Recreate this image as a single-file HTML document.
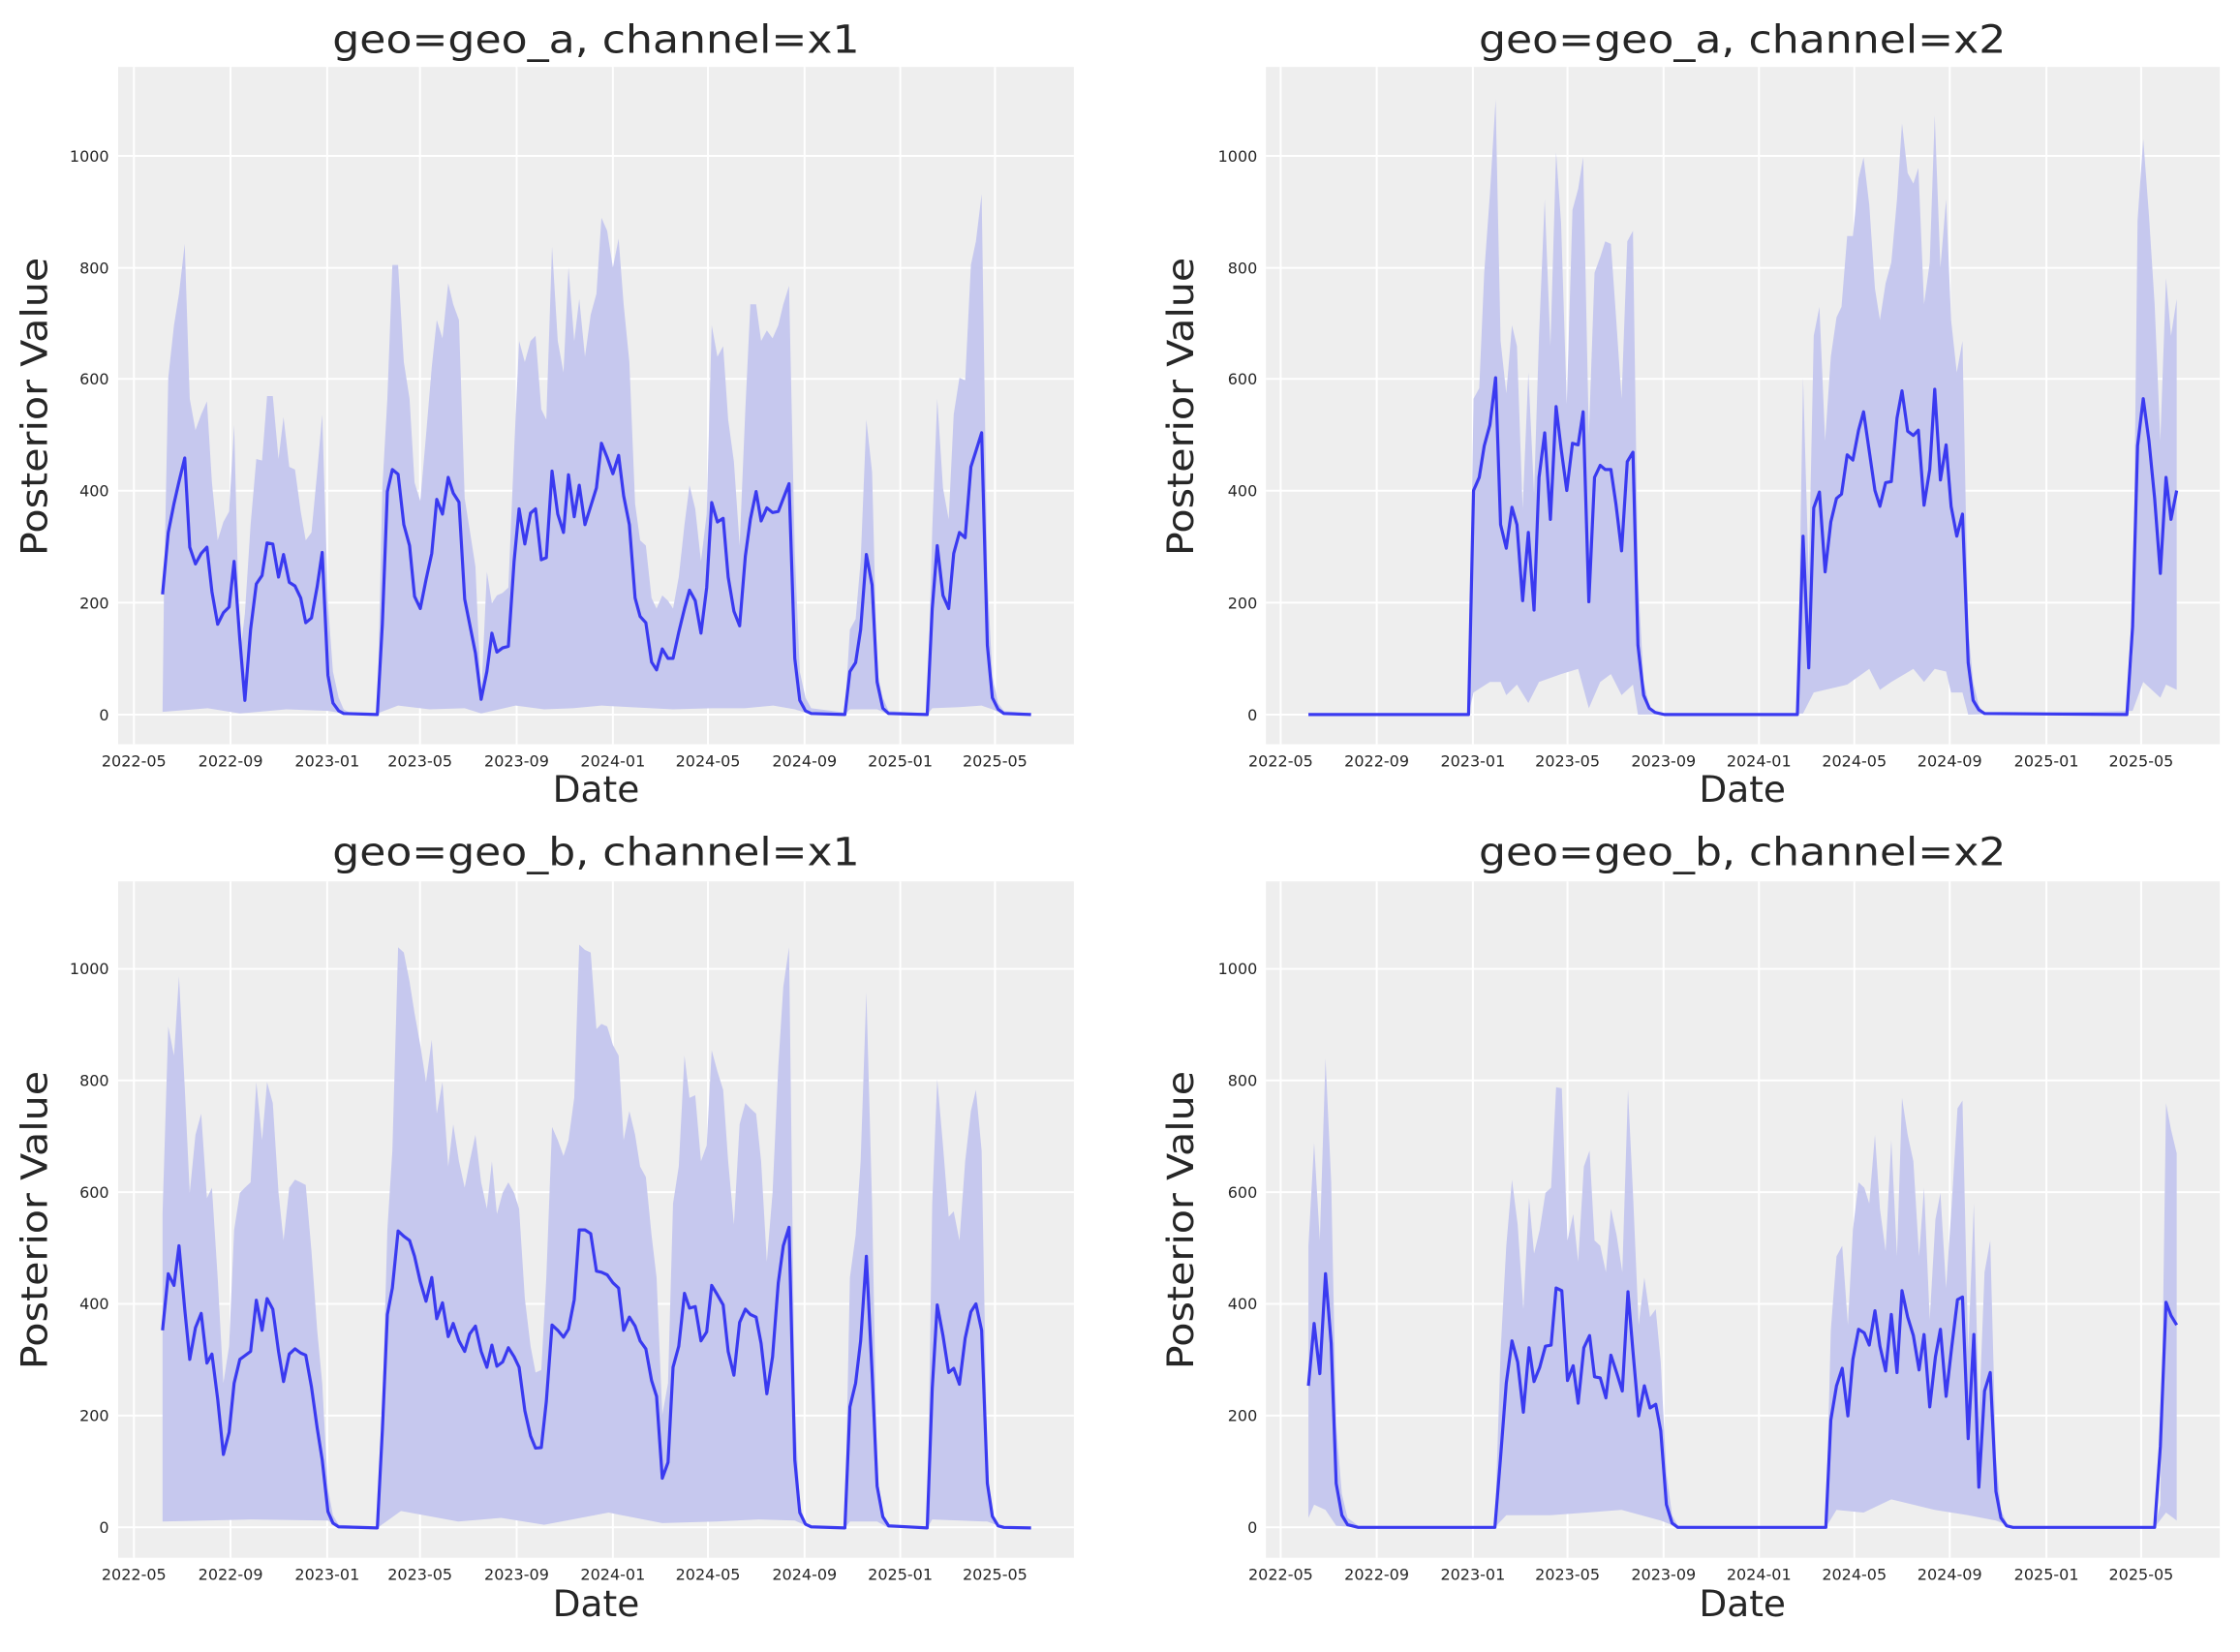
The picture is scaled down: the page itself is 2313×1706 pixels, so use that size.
<!DOCTYPE html>
<html><head><meta charset="utf-8"><style>
html,body{margin:0;padding:0;background:#fff;}
svg{display:block;}
text{font-family:"DejaVu Sans","Liberation Sans",sans-serif;fill:#262626;}
.t{font-size:41px;}
.l{font-size:38px;}
.k{font-size:16.2px;}
.d{fill:#c6c8ee;}
.m{fill:none;stroke:#3a3af0;stroke-width:3.2;vector-effect:non-scaling-stroke;stroke-linejoin:round;}
.g{stroke:#fff;stroke-width:2;}
</style></head><body>
<svg width="2313" height="1706" viewBox="0 0 2313 1706" xmlns="http://www.w3.org/2000/svg">

<!-- ===== TL ===== -->
<g transform="scale(0.98789)">
<rect x="123.5" y="70" width="999" height="708" fill="#eeeeee"/>
<g class="g">
<path d="M123.5 747H1122.5M123.5 630H1122.5M123.5 513H1122.5M123.5 396H1122.5M123.5 280H1122.5M123.5 163H1122.5"/>
<path d="M140 70V778M241 70V778M342 70V778M439 70V778M540 70V778M640.6 70V778M740 70V778M841 70V778M941 70V778M1040 70V778"/>
</g>
<g transform="scale(0.7484,0.5484)">
<path class="d" d="M227 1357L229 1130L235 720L243 620L250 560L258 465L265 760L273 820L281 790L289 765L296 920L304 1030L312 995L320 975L327 810L335 1250L342 1170L350 1000L358 875L366 878L373 755L381 755L389 875L396 795L404 890L412 895L420 975L427 1030L435 1015L443 900L450 790L458 1150L465 1280L473 1330L480 1352L490 1360L527 1360L534 930L541 760L548 505L556 505L564 690L572 760L579 920L587 955L595 830L603 700L610 610L618 645L626 540L633 580L641 610L649 950L656 1010L664 1080L672 1330L680 1090L687 1150L694 1135L702 1130L710 1120L718 860L725 650L733 690L741 650L748 640L756 780L763 800L771 470L779 650L787 710L794 510L802 650L809 570L817 680L825 600L833 560L840 415L848 440L856 510L864 455L871 580L879 690L887 960L894 1030L902 1040L910 1140L917 1160L925 1135L933 1145L940 1160L948 1100L956 1000L963 925L971 970L979 1070L987 980L994 620L1002 680L1010 660L1017 800L1025 880L1033 1040L1041 780L1048 580L1056 580L1063 650L1071 630L1079 645L1087 620L1094 580L1102 545L1110 1050L1117 1280L1125 1330L1133 1350L1180 1358L1187 1200L1195 1180L1202 1070L1210 800L1218 900L1225 1280L1233 1330L1241 1355L1295 1360L1302 1010L1309 760L1317 930L1325 990L1332 790L1340 720L1348 725L1356 505L1363 460L1371 370L1379 1100L1386 1290L1394 1340L1402 1355L1440 1360L1440 1362L1402 1362L1386 1352L1371 1345L1340 1348L1302 1350L1295 1362L1241 1362L1225 1352L1187 1352L1180 1362L1133 1362L1110 1352L1080 1345L1040 1350L994 1350L940 1352L880 1348L840 1345L800 1350L760 1352L720 1345L672 1360L649 1350L600 1352L556 1345L527 1360L480 1360L458 1355L400 1352L335 1360L290 1350L227 1357Z"/>
<path class="m" d="M227 1133L235 1015L243 960L250 918L258 873L265 1043L273 1075L281 1055L289 1043L296 1128L304 1190L312 1168L320 1157L327 1070L335 1220L342 1335L350 1200L358 1113L366 1097L373 1035L381 1037L389 1100L396 1057L404 1110L412 1117L420 1140L427 1187L435 1178L443 1118L450 1053L458 1287L465 1340L473 1355L480 1360L527 1362L534 1190L541 937L548 895L556 904L564 1000L572 1040L579 1137L587 1160L595 1105L603 1055L610 952L618 980L626 910L633 940L641 957L649 1142L656 1190L664 1245L672 1333L680 1280L687 1207L694 1243L702 1235L710 1232L718 1070L725 970L733 1037L741 978L748 970L756 1067L763 1063L771 898L779 980L787 1015L794 905L802 985L809 925L817 1000L825 965L833 930L840 845L848 872L856 903L864 868L871 945L879 1000L887 1140L894 1175L902 1187L910 1262L917 1277L925 1237L933 1255L940 1255L948 1205L956 1160L963 1125L971 1145L979 1207L987 1120L994 958L1002 995L1010 988L1017 1100L1025 1165L1033 1193L1041 1060L1048 990L1056 937L1063 993L1071 968L1079 977L1087 975L1094 950L1102 922L1110 1255L1117 1335L1125 1355L1133 1360L1180 1362L1187 1280L1195 1263L1202 1200L1210 1057L1218 1115L1225 1300L1233 1350L1241 1360L1295 1362L1302 1160L1309 1040L1317 1135L1325 1160L1332 1055L1340 1015L1348 1025L1356 890L1363 860L1371 825L1379 1230L1386 1330L1394 1352L1402 1360L1440 1362"/>
</g>
<text class="t" x="623" y="55" text-anchor="middle" textLength="551" lengthAdjust="spacingAndGlyphs">geo=geo_a, channel=x1</text>
<text class="l" x="623" y="838" text-anchor="middle">Date</text>
<text class="l" transform="translate(49,425) rotate(-90)" text-anchor="middle" textLength="312" lengthAdjust="spacingAndGlyphs">Posterior Value</text>
<g class="k" text-anchor="end">
<text x="114" y="753">0</text><text x="114" y="636">200</text><text x="114" y="519">400</text><text x="114" y="402">600</text><text x="114" y="286">800</text><text x="114" y="169">1000</text>
</g>
<g class="k" text-anchor="middle">
<text x="140" y="801">2022-05</text><text x="241" y="801">2022-09</text><text x="342" y="801">2023-01</text><text x="439" y="801">2023-05</text><text x="540" y="801">2023-09</text><text x="640.6" y="801">2024-01</text><text x="740" y="801">2024-05</text><text x="841" y="801">2024-09</text><text x="941" y="801">2025-01</text><text x="1040" y="801">2025-05</text>
</g>
</g>

<!-- ===== TR ===== -->
<g transform="translate(1160,0) scale(0.98789) translate(-1160,0)">
<rect x="1309" y="70" width="997" height="708" fill="#eeeeee"/>
<g class="g">
<path d="M1309 747H2306M1309 630H2306M1309 513H2306M1309 396H2306M1309 280H2306M1309 163H2306"/>
<path d="M1324.4 70V778M1424.8 70V778M1525.3 70V778M1624.2 70V778M1724.6 70V778M1824.3 70V778M1924 70V778M2023.7 70V778M2124.8 70V778M2223.8 70V778"/>
</g>
<g transform="translate(1160,0) scale(0.7439,0.5484)">
<path class="d" d="M485 1362L492 760L500 740L507 520L515 370L523 190L530 650L538 750L546 620L553 660L561 970L569 710L577 940L584 640L592 380L600 660L608 290L615 425L623 770L631 400L639 360L646 300L654 830L662 520L670 490L677 460L685 465L692 600L700 760L708 460L716 440L723 1100L731 1300L739 1345L747 1358L760 1362L947 1362L955 720L963 1100L970 640L978 585L986 840L994 680L1002 605L1009 585L1017 450L1025 450L1033 340L1040 300L1048 390L1056 550L1063 610L1071 540L1079 500L1087 380L1094 235L1102 330L1110 350L1117 320L1125 580L1133 500L1140 220L1148 510L1156 380L1163 610L1171 710L1179 650L1187 1200L1194 1300L1202 1345L1210 1360L1410 1362L1418 1250L1425 420L1433 265L1441 410L1449 580L1457 840L1465 530L1472 640L1480 570L1480 1315L1465 1305L1457 1330L1433 1300L1418 1355L1187 1362L1179 1320L1163 1320L1156 1280L1140 1275L1125 1300L1110 1275L1079 1300L1063 1315L1048 1275L1017 1305L970 1320L955 1360L723 1362L716 1305L700 1325L685 1285L670 1300L654 1350L639 1275L615 1285L584 1300L569 1340L553 1305L538 1325L530 1300L515 1300L492 1320L485 1362Z"/>
<path class="m" d="M260 1362L485 1362L492 935L500 910L507 850L515 810L523 720L530 1000L538 1045L546 967L553 1000L561 1145L569 1015L577 1163L584 910L592 825L600 990L608 775L615 855L623 935L631 845L639 848L646 785L654 1147L662 910L670 887L677 895L685 895L692 960L700 1050L708 880L716 862L723 1230L731 1325L739 1350L747 1358L760 1362L947 1362L955 1022L963 1273L970 968L978 938L986 1090L994 995L1002 950L1009 942L1017 867L1025 877L1033 820L1040 785L1048 860L1056 935L1063 965L1071 920L1079 918L1087 797L1094 745L1102 822L1110 830L1117 820L1125 963L1133 895L1140 742L1148 915L1156 848L1163 965L1171 1022L1179 980L1187 1263L1194 1335L1202 1353L1210 1360L1410 1362L1418 1195L1425 850L1433 760L1441 840L1449 950L1457 1093L1465 910L1472 990L1480 935"/>
</g>
<text class="t" x="1807" y="55" text-anchor="middle" textLength="551" lengthAdjust="spacingAndGlyphs">geo=geo_a, channel=x2</text>
<text class="l" x="1807" y="838" text-anchor="middle">Date</text>
<text class="l" transform="translate(1233,425) rotate(-90)" text-anchor="middle" textLength="312" lengthAdjust="spacingAndGlyphs">Posterior Value</text>
<g class="k" text-anchor="end">
<text x="1300" y="753">0</text><text x="1300" y="636">200</text><text x="1300" y="519">400</text><text x="1300" y="402">600</text><text x="1300" y="286">800</text><text x="1300" y="169">1000</text>
</g>
<g class="k" text-anchor="middle">
<text x="1324.4" y="801">2022-05</text><text x="1424.8" y="801">2022-09</text><text x="1525.3" y="801">2023-01</text><text x="1624.2" y="801">2023-05</text><text x="1724.6" y="801">2023-09</text><text x="1824.3" y="801">2024-01</text><text x="1924" y="801">2024-05</text><text x="2023.7" y="801">2024-09</text><text x="2124.8" y="801">2025-01</text><text x="2223.8" y="801">2025-05</text>
</g>
</g>

<!-- ===== BL ===== -->
<g transform="translate(0,850) scale(0.98789) translate(0,-850)">
<rect x="123.5" y="911" width="999" height="707" fill="#eeeeee"/>
<g class="g">
<path d="M123.5 1586.2H1122.5M123.5 1469.4H1122.5M123.5 1352.6H1122.5M123.5 1235.8H1122.5M123.5 1119H1122.5M123.5 1002.4H1122.5"/>
<path d="M140 911V1618M241 911V1618M342 911V1618M439 911V1618M540 911V1618M640.6 911V1618M740 911V1618M841 911V1618M941 911V1618M1040 911V1618"/>
</g>
<g transform="translate(0,850) scale(0.7484,0.5523)">
<path class="d" d="M227 740L235 385L243 440L250 290L258 500L265 700L273 590L281 550L289 710L296 690L304 860L312 1060L320 990L327 770L335 700L342 690L350 680L358 490L366 600L373 490L381 530L389 700L396 790L404 690L412 675L420 680L427 685L435 810L443 960L450 1060L458 1260L465 1310L473 1328L527 1332L534 1110L541 770L548 620L556 235L564 245L572 300L579 360L587 420L595 490L603 410L610 550L618 490L626 650L633 570L641 640L649 690L656 640L664 590L672 680L680 730L687 640L694 740L702 700L710 680L718 700L725 730L733 900L741 990L748 1040L756 1035L763 860L771 575L779 600L787 630L794 600L802 520L809 230L817 240L825 245L833 390L840 380L848 385L856 420L864 440L871 600L879 545L887 590L894 650L902 670L910 780L917 860L925 1120L933 1060L940 720L948 650L956 440L963 520L971 515L979 640L987 610L994 430L1002 470L1010 505L1017 640L1025 760L1033 570L1041 530L1048 540L1056 550L1063 640L1071 830L1079 700L1087 460L1094 310L1102 235L1110 1100L1117 1290L1125 1325L1133 1332L1180 1334L1187 860L1195 780L1202 640L1210 320L1218 720L1225 1230L1233 1310L1241 1330L1295 1334L1302 720L1309 485L1317 610L1325 745L1332 735L1340 790L1348 640L1356 545L1363 505L1371 620L1379 1220L1386 1310L1394 1330L1402 1333L1440 1334L1402 1334L1379 1322L1302 1318L1295 1334L1241 1334L1225 1322L1187 1322L1180 1334L1133 1334L1110 1320L1060 1318L1000 1322L925 1325L850 1305L760 1328L700 1315L640 1322L560 1302L527 1334L473 1334L458 1320L350 1318L227 1322Z"/>
<path class="m" d="M227 960L235 853L243 875L250 800L258 920L265 1015L273 955L281 928L289 1022L296 1005L304 1090L312 1195L320 1153L327 1060L335 1015L342 1008L350 1000L358 903L366 960L373 900L381 920L389 1000L396 1057L404 1005L412 995L420 1003L427 1007L435 1067L443 1145L450 1205L458 1303L465 1325L473 1332L527 1334L534 1150L541 930L548 880L556 772L564 782L572 790L579 820L587 868L595 905L603 860L610 938L618 908L626 972L633 947L641 980L649 1000L656 967L664 952L672 1000L680 1030L687 988L694 1028L702 1020L710 993L718 1010L725 1030L733 1112L741 1160L748 1183L756 1182L763 1095L771 950L779 960L787 973L794 958L802 902L809 770L817 770L825 777L833 848L840 850L848 855L856 870L864 880L871 960L879 935L887 952L894 980L902 995L910 1055L917 1085L925 1240L933 1210L940 1030L948 990L956 890L963 918L971 915L979 980L987 963L994 875L1002 893L1010 912L1017 1000L1025 1045L1033 945L1041 920L1048 930L1056 935L1063 985L1071 1080L1079 1010L1087 870L1094 800L1102 765L1110 1205L1117 1305L1125 1327L1133 1332L1180 1334L1187 1105L1195 1060L1202 980L1210 820L1218 1040L1225 1255L1233 1313L1241 1330L1295 1334L1302 1070L1309 912L1317 970L1325 1040L1332 1032L1340 1062L1348 975L1356 925L1363 910L1371 960L1379 1250L1386 1312L1394 1330L1402 1333L1440 1334"/>
</g>
<text class="t" x="623" y="894" text-anchor="middle" textLength="551" lengthAdjust="spacingAndGlyphs">geo=geo_b, channel=x1</text>
<text class="l" x="623" y="1679" text-anchor="middle">Date</text>
<text class="l" transform="translate(49,1265) rotate(-90)" text-anchor="middle" textLength="312" lengthAdjust="spacingAndGlyphs">Posterior Value</text>
<g class="k" text-anchor="end">
<text x="114" y="1592">0</text><text x="114" y="1475">200</text><text x="114" y="1358">400</text><text x="114" y="1242">600</text><text x="114" y="1125">800</text><text x="114" y="1008">1000</text>
</g>
<g class="k" text-anchor="middle">
<text x="140" y="1641">2022-05</text><text x="241" y="1641">2022-09</text><text x="342" y="1641">2023-01</text><text x="439" y="1641">2023-05</text><text x="540" y="1641">2023-09</text><text x="640.6" y="1641">2024-01</text><text x="740" y="1641">2024-05</text><text x="841" y="1641">2024-09</text><text x="941" y="1641">2025-01</text><text x="1040" y="1641">2025-05</text>
</g>
</g>

<!-- ===== BR ===== -->
<g transform="translate(1160,850) scale(0.98789) translate(-1160,-850)">
<rect x="1309" y="911" width="997" height="707" fill="#eeeeee"/>
<g class="g">
<path d="M1309 1586.2H2306M1309 1469.4H2306M1309 1352.6H2306M1309 1235.8H2306M1309 1119H2306M1309 1002.4H2306"/>
<path d="M1324.4 911V1618M1424.8 911V1618M1525.3 911V1618M1624.2 911V1618M1724.6 911V1618M1824.3 911V1618M1924 911V1618M2023.7 911V1618M2124.8 911V1618M2223.8 911V1618"/>
</g>
<g transform="translate(1160,850) scale(0.7439,0.5523)">
<path class="d" d="M260 800L268 605L276 790L284 445L292 680L299 1140L307 1270L315 1315L330 1330L522 1333L530 1000L538 800L546 675L554 760L562 920L570 710L577 815L585 770L593 700L601 690L608 500L616 502L624 790L632 740L639 830L647 650L655 620L662 790L670 800L678 850L685 730L693 780L701 850L709 505L716 700L724 950L732 860L740 935L748 920L755 1020L763 1230L771 1310L779 1330L987 1333L994 960L1002 820L1010 800L1018 950L1025 770L1033 680L1041 690L1048 720L1056 590L1063 730L1071 810L1079 600L1087 820L1094 520L1102 590L1110 640L1118 820L1125 690L1133 940L1141 750L1148 700L1156 880L1164 720L1172 540L1179 525L1187 1000L1195 720L1202 1130L1210 850L1218 790L1226 1200L1233 1300L1241 1325L1250 1333L1449 1333L1457 1290L1465 530L1472 580L1480 625L1480 1320L1465 1305L1449 1333L1250 1333L1226 1320L1187 1310L1140 1300L1079 1280L1040 1305L1002 1300L987 1333L779 1333L755 1320L700 1300L600 1310L538 1310L522 1333L330 1333L299 1330L284 1300L268 1290L260 1315Z"/>
<path class="m" d="M260 1065L268 947L276 1042L284 853L292 985L299 1250L307 1310L315 1328L330 1333L522 1333L530 1200L538 1060L546 980L554 1020L562 1115L570 993L577 1057L585 1030L593 990L601 988L608 880L616 885L624 1055L632 1027L639 1098L647 993L655 970L662 1048L670 1050L678 1088L685 1007L693 1040L701 1075L709 887L716 1000L724 1122L732 1065L740 1107L748 1100L755 1150L763 1290L771 1325L779 1333L987 1333L994 1130L1002 1065L1010 1032L1018 1122L1025 1015L1033 958L1041 965L1048 988L1056 923L1063 990L1071 1037L1079 930L1087 1040L1094 885L1102 935L1110 970L1118 1035L1125 968L1133 1105L1141 1010L1148 958L1156 1085L1164 990L1172 902L1179 897L1187 1165L1195 968L1202 1257L1210 1075L1218 1040L1226 1265L1233 1315L1241 1330L1250 1333L1449 1333L1457 1180L1465 907L1472 932L1480 950"/>
</g>
<text class="t" x="1807" y="894" text-anchor="middle" textLength="551" lengthAdjust="spacingAndGlyphs">geo=geo_b, channel=x2</text>
<text class="l" x="1807" y="1679" text-anchor="middle">Date</text>
<text class="l" transform="translate(1233,1265) rotate(-90)" text-anchor="middle" textLength="312" lengthAdjust="spacingAndGlyphs">Posterior Value</text>
<g class="k" text-anchor="end">
<text x="1300" y="1592">0</text><text x="1300" y="1475">200</text><text x="1300" y="1358">400</text><text x="1300" y="1242">600</text><text x="1300" y="1125">800</text><text x="1300" y="1008">1000</text>
</g>
<g class="k" text-anchor="middle">
<text x="1324.4" y="1641">2022-05</text><text x="1424.8" y="1641">2022-09</text><text x="1525.3" y="1641">2023-01</text><text x="1624.2" y="1641">2023-05</text><text x="1724.6" y="1641">2023-09</text><text x="1824.3" y="1641">2024-01</text><text x="1924" y="1641">2024-05</text><text x="2023.7" y="1641">2024-09</text><text x="2124.8" y="1641">2025-01</text><text x="2223.8" y="1641">2025-05</text>
</g>
</g>
</svg>
</body></html>
